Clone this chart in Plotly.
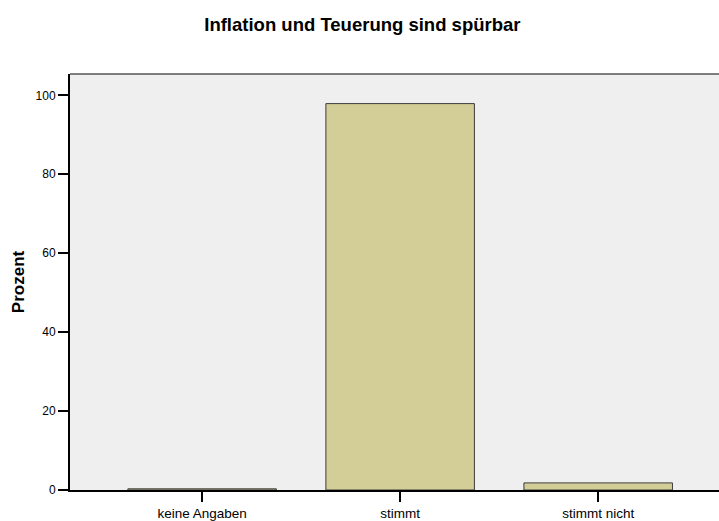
import plotly.graph_objects as go

categories = ["keine Angaben", "stimmt", "stimmt nicht"]
values = [0.3, 97.9, 1.8]
y_ticks = [0, 20, 40, 60, 80, 100]

font_family = "Liberation Sans, Arial, sans-serif"

fig = go.Figure()
fig.add_trace(go.Bar(
    x=categories,
    y=values,
    width=0.75,
    marker=dict(color="#d3ce97", line=dict(color="#3c3c3c", width=1)),
    hoverinfo="x+y",
))

fig.update_layout(
    width=719,
    height=521,
    margin=dict(l=70, r=0, t=74, b=27),
    paper_bgcolor="white",
    plot_bgcolor="#efefef",
    showlegend=False,
    font=dict(family=font_family, color="black", size=12),
    title=dict(
        text="<b>Inflation und Teuerung sind spürbar</b>",
        xref="container", x=0.504, xanchor="center",
        yref="container", y=0.953, yanchor="middle",
        font=dict(size=18.5, family=font_family, color="black"),
    ),
)

fig.update_xaxes(
    range=[-0.667, 2.61],
    showgrid=False,
    showline=True, linecolor="black", linewidth=2,
    ticks="outside", ticklen=10, tickwidth=2, tickcolor="black",
    tickfont=dict(size=13.5, family=font_family),
    zeroline=False,
)
fig.update_yaxes(
    range=[0, 105.4],
    tickvals=y_ticks,
    showgrid=False,
    showline=True, linecolor="black", linewidth=2,
    ticks="outside", ticklen=10, tickwidth=2, tickcolor="black",
    tickfont=dict(size=12, family=font_family),
    zeroline=False,
    title=dict(text="<b>Prozent</b>", font=dict(size=17, family=font_family), standoff=7),
)

fig.add_shape(type="line", xref="paper", yref="paper", x0=0, x1=1, y0=1, y1=1,
              line=dict(color="#555555", width=1.5))

fig.write_html(
    "out.html",
    config={"displayModeBar": False},
    post_script="document.body.style.margin='0';document.body.style.overflow='hidden';",
)
